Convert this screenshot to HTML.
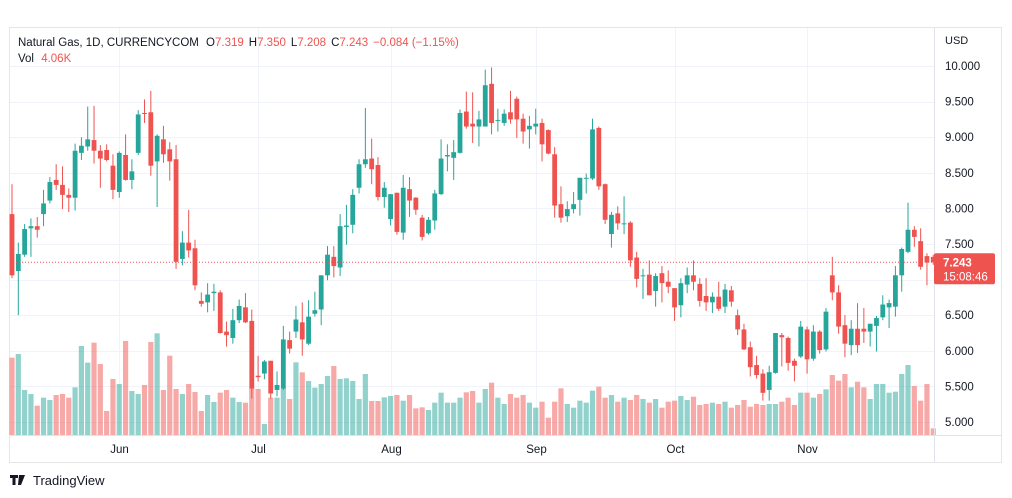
<!DOCTYPE html>
<html><head><meta charset="utf-8">
<style>
body{margin:0;background:#fff;width:1012px;height:498px;overflow:hidden;font-family:"Liberation Sans",sans-serif;}
svg{display:block}
</style></head>
<body>
<svg id="chart" width="1012" height="498" xmlns="http://www.w3.org/2000/svg">
<rect x="9.5" y="27.5" width="992" height="435" fill="#fff" stroke="#e6e6e6"/>
<g id="grid"></g>
<g id="vol"></g>
<g id="candles"></g>
<line x1="934.5" y1="28" x2="934.5" y2="462" stroke="#e0e3eb"/>
<line x1="10" y1="435.5" x2="1001" y2="435.5" stroke="#e0e3eb"/>
<g id="axes" font-size="11.5" fill="#131722"></g>
<text x="945" y="44" font-size="11" fill="#131722">USD</text>
<text x="18" y="46" font-size="11.5" fill="#131722">Natural Gas, 1D, CURRENCYCOM <tspan dx="4">O</tspan><tspan fill="#ef5350">7.319</tspan><tspan dx="5">H</tspan><tspan fill="#ef5350">7.350</tspan><tspan dx="5">L</tspan><tspan fill="#ef5350">7.208</tspan><tspan dx="5">C</tspan><tspan fill="#ef5350">7.243</tspan><tspan dx="5" fill="#ef5350">−0.084 (−1.15%)</tspan></text>
<text x="18" y="62" font-size="11.5" fill="#131722">Vol <tspan dx="4" fill="#ef5350">4.06K</tspan></text>
<g>
<path d="M10 475h8v3h-2.5v7h-3v-7H10z M19 475h6l-4 10h-3z" fill="#131722"/>
<text x="33" y="485" font-size="13" fill="#131722">TradingView</text>
</g>
</svg>
<script>
const months=["Jun","Jul","Aug","Sep","Oct","Nov"];
const monthIdx=[17,39,60,83,105,126];
const priceTicks=[5,5.5,6,6.5,7,7.5,8,8.5,9,9.5,10];
const opens=[7.92,7.12,7.35,7.72,7.75,7.92,8.11,8.40,8.33,8.19,8.15,8.78,8.87,8.96,8.81,8.82,8.60,8.23,8.75,8.40,8.78,9.34,9.35,8.66,8.97,8.83,8.69,7.29,7.52,7.44,6.70,6.68,6.81,6.82,6.27,6.18,6.43,6.61,
6.42,5.65,5.68,5.86,5.45,5.47,6.15,6.27,6.40,6.10,6.52,6.58,7.06,7.32,7.17,7.74,7.77,8.29,8.62,8.70,8.61,8.16,7.85,8.22,7.66,8.27,8.15,7.87,7.65,7.83,8.20,8.73,8.71,8.78,9.36,9.19,9.15,9.15,9.75,
9.23,9.20,9.35,9.54,9.26,9.11,9.15,9.20,9.10,8.76,8.06,7.89,7.99,8.12,8.42,8.42,9.13,8.34,7.64,7.93,7.78,7.80,7.31,7.05,7.07,6.84,7.09,6.97,6.88,6.64,6.93,7.06,6.94,6.77,6.68,6.76,
6.62,6.85,6.50,6.30,6.05,5.80,5.68,5.45,5.69,6.22,6.18,5.86,5.92,6.30,5.89,6.27,6.02,7.06,6.82,6.36,6.08,6.31,6.31,6.27,6.35,6.47,6.61,6.62,7.06,7.39,7.70,7.54,7.33,7.319];
const highs=[8.34,7.52,7.78,7.86,7.88,8.26,8.44,8.62,8.59,8.28,8.91,9.00,9.43,9.44,8.89,8.90,8.76,8.80,9.04,8.69,9.38,9.53,9.65,9.04,9.16,8.93,8.89,7.68,7.98,7.56,6.82,6.95,6.94,6.85,6.41,6.59,6.72,6.81,
6.58,5.93,5.87,5.86,5.71,6.35,6.27,6.63,6.68,6.71,6.83,7.06,7.47,7.47,7.92,8.05,8.27,8.69,9.41,8.98,8.72,8.37,8.20,8.22,8.47,8.44,8.16,7.91,7.88,8.26,8.97,8.90,8.96,9.39,9.64,9.63,9.37,9.95,9.98,
9.40,9.39,9.65,9.57,9.33,9.30,9.40,9.26,9.11,8.86,8.31,8.10,8.23,8.43,8.49,9.26,9.15,8.35,7.95,8.03,8.17,7.82,7.39,7.15,7.27,7.09,7.19,7.13,6.88,7.02,7.17,7.27,7.02,7.02,6.82,6.97,
6.94,6.91,6.58,6.38,6.13,5.93,5.74,5.79,6.25,6.25,6.20,5.89,6.42,6.34,6.36,6.29,6.60,7.32,6.92,6.50,6.43,6.67,6.60,6.38,6.49,6.78,6.72,7.19,7.45,8.08,7.75,7.72,7.37,7.35];
const lows=[7.02,6.50,7.32,7.32,7.59,7.75,8.07,8.26,7.99,7.95,7.97,8.68,8.81,8.63,8.29,8.66,8.13,8.15,8.39,8.27,8.75,9.20,8.46,8.02,8.64,8.39,7.15,7.20,7.31,6.85,6.62,6.54,6.56,6.24,6.06,6.10,6.39,6.39,
5.33,5.57,5.60,5.33,5.36,5.45,5.96,6.18,5.93,6.08,6.48,6.36,6.99,7.03,7.05,7.49,7.65,8.21,8.57,8.34,8.11,8.01,7.76,7.63,7.56,7.88,7.91,7.55,7.63,7.70,8.19,8.52,8.40,8.77,9.12,8.92,8.87,9.15,9.04,
9.08,9.16,9.19,8.99,8.91,8.84,9.04,8.66,8.76,7.87,7.80,7.81,7.93,7.90,8.21,8.40,8.26,7.78,7.45,7.70,7.64,7.18,6.89,6.73,6.78,6.62,6.68,6.81,6.42,6.47,6.81,6.85,6.62,6.56,6.53,6.56,
6.53,6.62,6.22,6.01,5.64,5.61,5.30,5.30,5.68,5.78,5.72,5.57,5.90,5.68,5.86,5.96,5.99,6.71,6.24,5.91,5.94,5.97,6.11,6.06,5.99,6.43,6.32,6.48,6.83,7.37,7.46,7.14,6.92,7.208];
const closes=[7.06,7.36,7.71,7.75,7.70,8.07,8.37,8.33,8.19,8.15,8.81,8.88,8.97,8.81,8.70,8.68,8.26,8.78,8.40,8.52,9.32,9.33,8.60,9.02,8.76,8.66,7.25,7.52,7.41,6.92,6.66,6.79,6.83,6.25,6.22,6.43,6.63,6.40,
5.47,5.63,5.85,5.40,5.52,6.16,6.03,6.44,6.16,6.48,6.57,7.06,7.35,7.19,7.75,7.76,8.19,8.62,8.69,8.55,8.16,8.29,8.20,7.67,8.29,8.11,7.98,7.60,7.84,8.21,8.70,8.75,8.79,9.34,9.15,9.15,9.25,9.73,9.20,
9.24,9.33,9.25,9.25,9.08,9.16,9.19,8.90,8.77,8.04,7.87,7.99,8.06,8.43,8.43,9.11,8.31,7.84,7.91,7.79,7.79,7.27,7.01,7.06,6.78,7.05,6.95,6.90,6.61,6.95,7.06,6.97,6.70,6.68,6.76,6.59,
6.86,6.69,6.30,6.02,5.77,5.66,5.41,5.70,6.25,6.19,5.83,5.79,6.34,5.88,6.27,6.01,6.55,6.82,6.34,6.10,6.31,6.08,6.27,6.38,6.46,6.65,6.67,7.06,7.43,7.70,7.60,7.18,7.24,7.243];
const volumes=[46.4,48.6,27,24.6,17.6,22.4,21,24,24.6,22.4,28.6,53.4,43.4,55.4,42.6,14.4,33.6,30.6,56.4,26.4,24.6,30,55.8,61,27,47.6,27.6,24.6,30.6,25.8,14.4,24,19.8,25.4,27,22.4,19.8,19.4,
28,27.6,6.6,22.4,22.4,28,21.6,43.6,37.6,32.4,28.4,30.6,35.4,41.4,33.6,34,32.4,21.6,36.6,20.4,20.4,22.6,23.4,24,20.6,24,16,16.6,15,19.4,25.4,19.4,19.4,22.4,25.6,26.4,19.4,27.6,31.4,
22.4,18.6,24.6,22.4,24,19.4,16.4,20,10.4,20,28,18.6,16.4,20.6,19.4,26.6,29,22.4,24,20,22.4,21,24,21.6,19.4,21.6,16.4,20,20.6,23.4,21,23,18,18.6,19.4,18.6,
20,16.4,18,21,17,18.6,18,18.6,18.6,20,22.4,18,25.4,25.4,22.4,24.6,27.4,36,32.6,36.6,28.6,32,28.6,21.6,30.6,30.6,25.4,26,36.6,42,29.4,20.6,30.6,4];
const lastPrice=7.243;

const NS="http://www.w3.org/2000/svg";
const X0=12, STEP=6.31;
function xOf(i){return X0+i*STEP;}
function yOf(p){return 66+(10-p)*71.2;}
function vH(v){return v/0.6;}
const VB=435;
function mk(tag,attrs,parent){const e=document.createElementNS(NS,tag);for(const k in attrs)e.setAttribute(k,attrs[k]);parent.appendChild(e);return e;}
const grid=document.getElementById('grid'),vol=document.getElementById('vol'),cg=document.getElementById('candles'),axes=document.getElementById('axes');
priceTicks.forEach(p=>{
  const y=Math.round(yOf(p))+0.5;
  const l=mk('line',{x1:10,x2:934,y1:y,y2:y,stroke:'#f0f3fa'},grid);
  
  
  const t=mk('text',{x:945,y:yOf(p)+4},axes);
  t.textContent=p.toFixed(3);
  
  
});
months.forEach((m,k)=>{
  const x=Math.round(xOf(monthIdx[k]))+0.5;
  const l=mk('line',{x1:x,x2:x,y1:28,y2:435,stroke:'#f0f3fa'},grid);
  
  
  const t=mk('text',{x:x,y:453,'text-anchor':'middle'},axes);
  t.textContent=m;
  
  
});
for(let i=0;i<opens.length;i++){
  const up=closes[i]>=opens[i];
  const x=xOf(i);
  const h=vH(volumes[i]);
  const vb=mk('rect',{x:x-2.6,y:VB-h,width:5.2,height:h,fill:up?'rgba(38,166,154,0.5)':'rgba(239,83,80,0.5)'},vol);
  
  
  const col=up?'#26a69a':'#ef5350';
  const g=mk('g',{},cg);
  
  
  mk('line',{x1:x,x2:x,y1:yOf(highs[i]),y2:yOf(lows[i]),stroke:col,'stroke-width':1},g);
  const top=yOf(Math.max(opens[i],closes[i])),bot=yOf(Math.min(opens[i],closes[i]));
  mk('rect',{x:x-2.4,y:top,width:4.8,height:Math.max(1,bot-top),fill:col},g);
}
const ly=yOf(lastPrice);
const pl=mk('line',{x1:10,x2:934,y1:ly,y2:ly,stroke:'#ef5350','stroke-dasharray':'1 2'},cg);


const lb=mk('rect',{x:934,y:ly-9,width:61,height:31,rx:2,fill:'#ef5350'},axes);


const t1=mk('text',{x:943,y:ly+4,fill:'#fff','font-weight':'bold','font-size':'11.5'},axes);
t1.textContent=lastPrice.toFixed(3);


const t2=mk('text',{x:943,y:ly+18,fill:'#fff','font-size':'11.5'},axes);
t2.textContent='15:08:46';


</script>
</body></html>
